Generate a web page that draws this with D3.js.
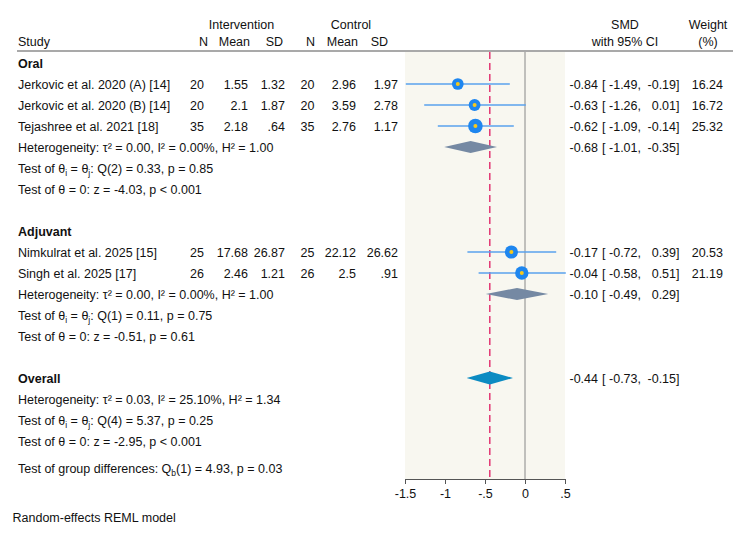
<!DOCTYPE html>
<html>
<head>
<meta charset="utf-8">
<script src="https://cdn.jsdelivr.net/npm/d3@7"></script>
<style>
  html, body { margin: 0; padding: 0; background: #fff; }
  text { font-family: "Liberation Sans", Arial, Helvetica, sans-serif; font-size: 12.5px; fill: #111; }
</style>
</head>
<body>
<svg id="chart" width="750" height="534"></svg>
<script>
// ---------------- DATA ----------------
const studyNames = ["Jerkovic et al. 2020 (A) [14]", "Jerkovic et al. 2020 (B) [14]", "Tejashree et al. 2021 [18]", "Nimkulrat et al. 2025 [15]", "Singh et al. 2025 [17]"];
const studyGroup = ["Oral", "Oral", "Oral", "Adjuvant", "Adjuvant"];
const intN = ["20", "20", "35", "25", "26"];
const intMean = ["1.55", "2.1", "2.18", "17.68", "2.46"];
const intSD = ["1.32", "1.87", ".64", "26.87", "1.21"];
const ctlN = ["20", "20", "35", "25", "26"];
const ctlMean = ["2.96", "3.59", "2.76", "22.12", "2.5"];
const ctlSD = ["1.97", "2.78", "1.17", "26.62", ".91"];
const smd = [-0.84, -0.63, -0.62, -0.17, -0.04];
const ciLow = [-1.49, -1.26, -1.09, -0.72, -0.58];
const ciHigh = [-0.19, 0.01, -0.14, 0.39, 0.51];
const weights = [16.24, 16.72, 25.32, 20.53, 21.19];

const groups = ["Oral", "Adjuvant"];
const groupSMD = [-0.68, -0.10];
const groupLow = [-1.01, -0.49];
const groupHigh = [-0.35, 0.29];
const groupHet = [
  ["0.00", "0.00%", "1.00"],
  ["0.00", "0.00%", "1.00"]
];
const groupQ = [["2", "0.33", "0.85"], ["1", "0.11", "0.75"]];
const groupZ = [["-4.03", "p < 0.001"], ["-0.51", "p = 0.61"]];

const overallSMD = -0.44, overallLow = -0.73, overallHigh = -0.15;
const overallHet = ["0.03", "25.10%", "1.34"];
const overallQ = ["4", "5.37", "0.25"];
const overallZ = ["-2.95", "p < 0.001"];
const groupDiff = ["1", "4.93", "0.03"];

const xTicks = [-1.5, -1, -0.5, 0, 0.5];
const xTickLabels = ["-1.5", "-1", "-.5", "0", ".5"];

// ---------------- LAYOUT ----------------
const svg = d3.select("#chart");
const x = d3.scaleLinear().domain([-1.5, 0.5]).range([405, 565]);
const rowY = i => 63 + 21 * i;
const rScale = d3.scaleSqrt().domain([0, 25.32]).range([0, 7.3]);
const plotTop = 52, plotBottom = 479;
const fmt = d => d.toFixed(2);

// build row list
const rows = [];
let ri = 0;
groups.forEach((g, gi) => {
  rows.push({type: "group", label: g, i: ri++});
  studyNames.forEach((s, si) => { if (studyGroup[si] === g) rows.push({type: "study", si, i: ri++}); });
  rows.push({type: "het", vals: groupHet[gi], pooled: gi, i: ri++});
  rows.push({type: "q", vals: groupQ[gi], i: ri++});
  rows.push({type: "z", vals: groupZ[gi], i: ri++});
  ri++; // blank
});
rows.push({type: "group", label: "Overall", overall: true, i: ri++});
rows.push({type: "het", vals: overallHet, i: ri++});
rows.push({type: "q", vals: overallQ, i: ri++});
rows.push({type: "z", vals: overallZ, i: ri++});

// ---------------- PLOT BACKGROUND ----------------
svg.append("rect").attr("x", x(-1.5)).attr("y", plotTop)
  .attr("width", x(0.5) - x(-1.5)).attr("height", plotBottom - plotTop)
  .attr("fill", "#f8f7f0");

// header
const hdr = svg.append("g");
hdr.append("text").attr("x", 241.5).attr("y", 29).attr("text-anchor", "middle").text("Intervention");
hdr.append("text").attr("x", 351).attr("y", 29).attr("text-anchor", "middle").text("Control");
hdr.append("text").attr("x", 18).attr("y", 46).text("Study");
[["N", 208], ["Mean", 250], ["SD", 283], ["N", 315], ["Mean", 358], ["SD", 388]].forEach(([t, xx]) =>
  hdr.append("text").attr("x", xx).attr("y", 46).attr("text-anchor", "end").text(t));
hdr.append("text").attr("x", 625).attr("y", 29).attr("text-anchor", "middle").text("SMD");
hdr.append("text").attr("x", 625).attr("y", 46).attr("text-anchor", "middle").text("with 95% CI");
hdr.append("text").attr("x", 708).attr("y", 29).attr("text-anchor", "middle").text("Weight");
hdr.append("text").attr("x", 708).attr("y", 46).attr("text-anchor", "middle").text("(%)");
svg.append("line").attr("x1", 17).attr("x2", 733).attr("y1", 51).attr("y2", 51)
  .attr("stroke", "#555").attr("stroke-width", 1.2);

// reference lines
svg.append("line").attr("x1", x(0)).attr("x2", x(0)).attr("y1", plotTop).attr("y2", plotBottom)
  .attr("stroke", "#888").attr("stroke-width", 1);
svg.append("line").attr("x1", x(overallSMD)).attr("x2", x(overallSMD)).attr("y1", plotTop).attr("y2", plotBottom)
  .attr("stroke", "#e0296a").attr("stroke-width", 1.4).attr("stroke-dasharray", "7,4");

// axis
const axis = d3.axisBottom(x).tickValues(xTicks).tickFormat((d, i) => xTickLabels[i]).tickSize(5).tickSizeOuter(0);
const ag = svg.append("g").attr("transform", `translate(0,${plotBottom})`).call(axis);
ag.select(".domain").attr("stroke", "#555");
ag.selectAll(".tick line").attr("stroke", "#555");
ag.selectAll(".tick text").attr("font-size", 12.5).attr("font-family", "Liberation Sans, Arial, sans-serif")
  .attr("fill", "#111").attr("dy", "0.85em");

// ---------------- ROWS ----------------
const body = svg.append("g");
function ciText(y, est, lo, hi) {
  body.append("text").attr("x", 598).attr("y", y).attr("text-anchor", "end").text(fmt(est));
  body.append("text").attr("x", 602).attr("y", y).text("[");
  body.append("text").attr("x", 641).attr("y", y).attr("text-anchor", "end").text(fmt(lo) + ",");
  body.append("text").attr("x", 679.5).attr("y", y).attr("text-anchor", "end").text(fmt(hi) + "]");
}
function diamond(yc, est, lo, hi, color, h) {
  body.append("path")
    .attr("d", `M${x(lo)},${yc} L${x(est)},${yc - h} L${x(hi)},${yc} L${x(est)},${yc + h} Z`)
    .attr("fill", color);
}
// subscript helper: writes sub text then resets baseline on the next piece
function sub(t, s, next) {
  t.append("tspan").attr("font-size", 8.5).attr("dy", 3).text(s);
  t.append("tspan").attr("dy", -3).text(next);
}

rows.forEach(r => {
  const yc = rowY(r.i), yb = yc + 4.5;
  if (r.type === "group") {
    body.append("text").attr("x", 18).attr("y", yb).attr("font-weight", "bold").text(r.label);
    if (r.overall) {
      diamond(yc, overallSMD, overallLow, overallHigh, "#0c8bc2", 6.5);
      ciText(yb, overallSMD, overallLow, overallHigh);
    }
  } else if (r.type === "study") {
    const s = r.si;
    body.append("text").attr("x", 18).attr("y", yb).text(studyNames[s]);
    [[intN, 204], [intMean, 248], [intSD, 285], [ctlN, 314.5], [ctlMean, 356], [ctlSD, 398]].forEach(([arr, xx]) =>
      body.append("text").attr("x", xx).attr("y", yb).attr("text-anchor", "end").text(arr[s]));
    body.append("line").attr("x1", x(ciLow[s])).attr("x2", x(ciHigh[s])).attr("y1", yc).attr("y2", yc)
      .attr("stroke", "#5aa2ee").attr("stroke-width", 1.3);
    body.append("circle").attr("cx", x(smd[s])).attr("cy", yc).attr("r", rScale(weights[s])).attr("fill", "#1e86ef");
    body.append("circle").attr("cx", x(smd[s])).attr("cy", yc).attr("r", 2).attr("fill", "#f7c81b");
    ciText(yb, smd[s], ciLow[s], ciHigh[s]);
    body.append("text").attr("x", 723).attr("y", yb).attr("text-anchor", "end").text(weights[s].toFixed(2));
  } else if (r.type === "het") {
    const [tau, i2, h2] = r.vals;
    body.append("text").attr("x", 18).attr("y", yb)
      .text(`Heterogeneity: τ² = ${tau}, I² = ${i2}, H² = ${h2}`);
    if (r.pooled !== undefined) {
      const g = r.pooled;
      diamond(yc, groupSMD[g], groupLow[g], groupHigh[g], "#7589a3", 6);
      ciText(yb, groupSMD[g], groupLow[g], groupHigh[g]);
    }
  } else if (r.type === "q") {
    const t = body.append("text").attr("x", 18).attr("y", yb);
    t.append("tspan").text("Test of θ");
    sub(t, "i", " = θ");
    sub(t, "j", `: Q(${r.vals[0]}) = ${r.vals[1]}, p = ${r.vals[2]}`);
  } else if (r.type === "z") {
    body.append("text").attr("x", 18).attr("y", yb).text(`Test of θ = 0: z = ${r.vals[0]}, ${r.vals[1]}`);
  }
});

// group differences
{
  const t = svg.append("text").attr("x", 18).attr("y", 472.5);
  t.append("tspan").text("Test of group differences: Q");
  sub(t, "b", `(${groupDiff[0]}) = ${groupDiff[1]}, p = ${groupDiff[2]}`);
}
svg.append("text").attr("x", 12.5).attr("y", 521.5).text("Random-effects REML model");
</script>
</body>
</html>
